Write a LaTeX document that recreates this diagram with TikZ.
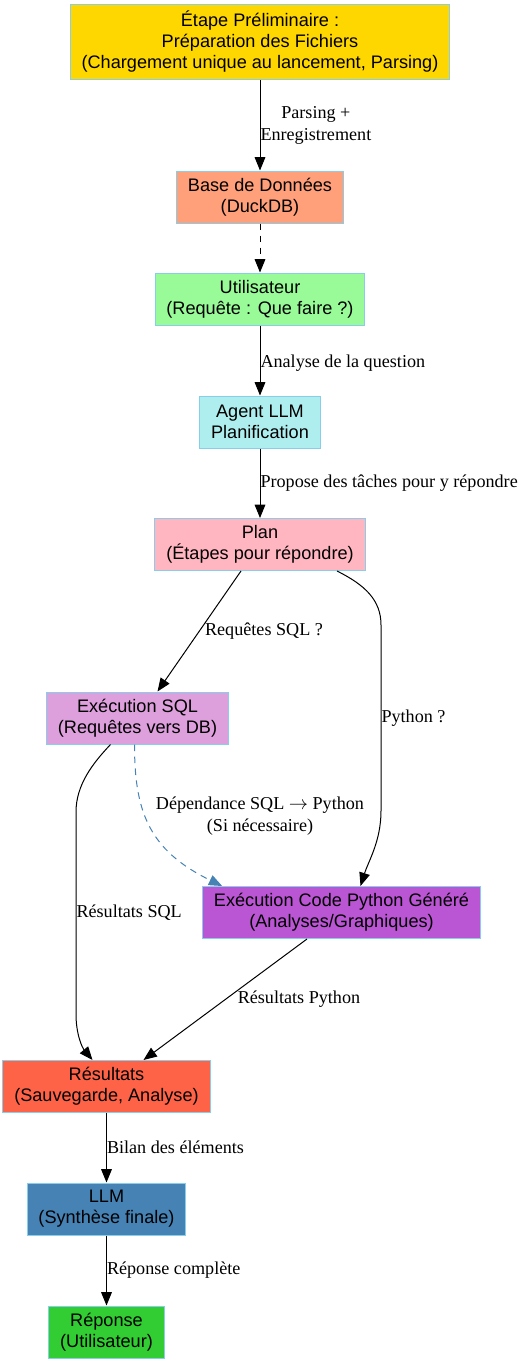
\documentclass[tikz,border=0pt]{standalone}
\usepackage{fontspec}
\setmainfont{Liberation Sans}
\newfontfamily\edgefont{Liberation Serif}
\usetikzlibrary{arrows.meta, calc}

\definecolor{rim}{HTML}{87CEEB}
\definecolor{goldfill}{HTML}{FFD700}
\definecolor{salmonfill}{HTML}{FFA07A}
\definecolor{greenfill}{HTML}{98FB98}
\definecolor{turqfill}{HTML}{AFEEEE}
\definecolor{pinkfill}{HTML}{FFB6C1}
\definecolor{plumfill}{HTML}{DDA0DD}
\definecolor{orchidfill}{HTML}{BA55D3}
\definecolor{tomatofill}{HTML}{FF6347}
\definecolor{steelfill}{HTML}{4682B4}
\definecolor{limefill}{HTML}{32CD32}

\begin{document}
\begin{tikzpicture}[
            x=0.75pt, y=-0.75pt, % 像素坐标, y 向下
            >={Triangle[length=10pt, width=8pt]}, % 箭头
            box/.style={
                rectangle, % 矩形节点
                draw=rim, % 边框颜色
                line width=0.75pt,
                align=center, % 多行居中
                inner xsep=8.5pt, inner ysep=5pt, % 内边距
                minimum height=39pt, % 最小高度
                font=\fontsize{13.6}{15.75}\selectfont % 字体大小
            },
            lbl/.style={
                align=center,
                inner sep=0pt,
                font=\edgefont\fontsize{13.6}{16.5}\selectfont % 边标签字体
            },
            link/.style={->, line width=0.75pt} % 连线样式
        ]

        \useasboundingbox (0,0) rectangle (524,1364);

        % 节点
        \node[box, fill=goldfill] (prep) at (260,42) {Étape Préliminaire :\\Préparation des Fichiers\\(Chargement unique au lancement, Parsing)};
        \node[box, fill=salmonfill] (db) at (260,197) {Base de Données\\(DuckDB)};
        \node[box, fill=greenfill] (user) at (260,299) {Utilisateur\\(Requête : Que faire ?)};
        \node[box, fill=turqfill] (agent) at (260,422) {Agent LLM\\Planification};
        \node[box, fill=pinkfill] (plan) at (260,544.5) {Plan\\(Étapes pour répondre)};
        \node[box, fill=plumfill] (sql) at (137.5,718) {Exécution SQL\\(Requêtes vers DB)};
        \node[box, fill=orchidfill] (py) at (341.5,912.5) {Exécution Code Python Généré\\(Analyses/Graphiques)};
        \node[box, fill=tomatofill] (res) at (106.5,1086.5) {Résultats\\(Sauvegarde, Analyse)};
        \node[box, fill=steelfill] (llm) at (106.5,1209) {LLM\\(Synthèse finale)};
        \node[box, fill=limefill] (rep) at (106.5,1332) {Réponse\\(Utilisateur)};

        % 主干连线
        \draw[link] (prep) -- node[lbl, anchor=west] {Parsing +\\Enregistrement} (db);
        \draw[link, dash pattern=on 5pt off 4pt] (db) -- (user);
        \draw[link] (user) -- node[lbl, anchor=west, yshift=-2pt] {Analyse de la question} (agent);
        \draw[link] (agent) -- node[lbl, anchor=west] {Propose des tâches pour y répondre} (plan);

        % 分支
        \draw[link] ($(plan.south)+(-19,0)$) -- node[lbl, anchor=west, xshift=4pt] {Requêtes SQL ?} ($(sql.north)+(20,0)$);
        \draw[link] ($(plan.south)+(77,0)$) .. controls +(28,14) and +(0,-25) .. (381,625)
            -- node[lbl, anchor=west] {Python ?} (381,811)
            .. controls +(0,30) and +(8,-25) .. ($(py.north)+(19,0)$);

        % SQL -> Python 依赖 (虚线)
        \draw[link, color=steelfill, dash pattern=on 5pt off 4pt] ($(sql.south)+(-3,0)$) .. controls +(0,66) and +(-74,-36) .. ($(py.north west)+(20,0)$);
        \node[lbl] (depLbl) at (260,816) {Dépendance SQL $\rightarrow$ Python\\(Si nécessaire)};

        % 结果汇总
        \draw[link] ($(sql.south)+(-27,0)$) .. controls +(-18,19) and +(0,-27) .. (76,812)
            -- node[lbl, anchor=west] {Résultats SQL} (76,1014)
            .. controls +(0,21) and +(-10,-12) .. ($(res.north)+(-14,0)$);
        \draw[link] ($(py.south)+(-34.5,0)$) -- node[lbl, anchor=west, xshift=9pt] {Résultats Python} ($(res.north)+(37,0)$);

        \draw[link] (res) -- node[lbl, anchor=west] {Bilan des éléments} (llm);
        \draw[link] (llm) -- node[lbl, anchor=west] {Réponse complète} (rep);
        \end{tikzpicture}
\end{document}
